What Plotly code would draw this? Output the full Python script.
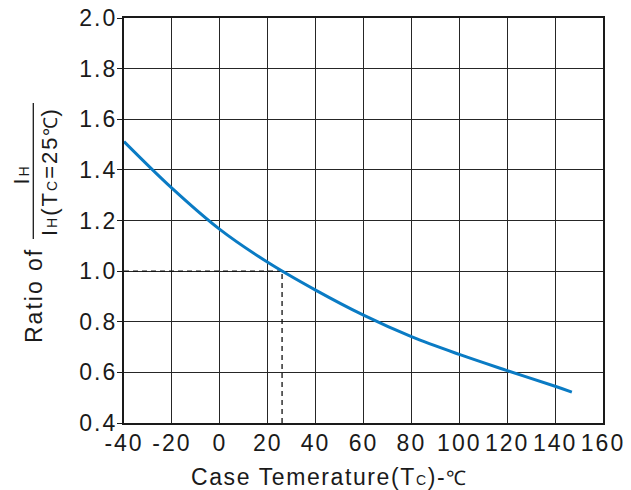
import plotly.graph_objects as go

# ---- data ----
temps = [-40, -20, 0, 20, 40, 60, 80, 100, 120, 140, 147]
ratio = [1.512, 1.328, 1.165, 1.035, 0.925, 0.826, 0.741, 0.671, 0.607, 0.545, 0.522]
ref_temp = 26
ref_ratio = 1.0
x_ticks = [-40, -20, 0, 20, 40, 60, 80, 100, 120, 140, 160]
y_ticks = [0.4, 0.6, 0.8, 1.0, 1.2, 1.4, 1.6, 1.8, 2.0]
x_range = [-40, 160]
y_range = [0.4, 2.0]

W, H = 631, 490
L, R, T, B = 124, 28, 18, 67
PW, PH = W - L - R, H - T - B

def px(xp):
    return (xp - L) / PW

def py(yp):
    return (H - B - yp) / PH

TXT = "#1a1a1a"
FONT = "Liberation Sans, Arial, sans-serif"
SP = "letter-spacing:2px"

def spaced(s):
    return f'<span style="{SP}">{s}</span>'

fig = go.Figure()

# dashed reference lines
fig.add_trace(go.Scatter(x=[x_range[0], ref_temp], y=[ref_ratio, ref_ratio], mode="lines",
                         line=dict(color="#111111", width=1.3, dash="5px,4px"),
                         hoverinfo="skip", showlegend=False))
fig.add_trace(go.Scatter(x=[ref_temp, ref_temp], y=[y_range[0], ref_ratio], mode="lines",
                         line=dict(color="#111111", width=1.3, dash="5px,4px"),
                         hoverinfo="skip", showlegend=False))
# curve
fig.add_trace(go.Scatter(x=temps, y=ratio, mode="lines",
                         line=dict(color="#0a7bc4", width=3, shape="spline", smoothing=1.0),
                         showlegend=False))

small = 'font-size:14px'
annotations = [
    dict(text=f'<span style="letter-spacing:1.6px">Case Temerature(T</span><span style="{small};letter-spacing:1.6px">C</span>'
              f'<span style="letter-spacing:1.6px">)-</span><span style="font-size:20px">℃</span>',
         x=px(328), y=py(477), xref="paper", yref="paper", showarrow=False,
         xanchor="center", yanchor="middle", font=dict(size=23, color=TXT, family=FONT)),
    dict(text=spaced("Ratio of"), textangle=-90,
         x=px(34), y=py(296), xref="paper", yref="paper", showarrow=False,
         xanchor="center", yanchor="middle", font=dict(size=23, color=TXT, family=FONT)),
    dict(text=f'<span style="{SP}">I</span><span style="{small}">H</span>', textangle=-90,
         x=px(20.5), y=py(176), xref="paper", yref="paper", showarrow=False,
         xanchor="center", yanchor="middle", font=dict(size=22, color=TXT, family=FONT)),
    dict(text=f'<span style="{SP}">I</span><span style="{small};{SP}">H</span>'
              f'<span style="{SP}">(T</span><span style="{small};{SP}">C</span>'
              f'<span style="{SP}">=25</span><span style="font-size:19px">℃</span><span style="{SP}">)</span>',
         textangle=-90,
         x=px(50), y=py(172), xref="paper", yref="paper", showarrow=False,
         xanchor="center", yanchor="middle", font=dict(size=22, color=TXT, family=FONT)),
]

shapes = [
    dict(type="line", xref="paper", yref="paper", x0=px(33.3), x1=px(33.3), y0=py(103), y1=py(239),
         line=dict(color=TXT, width=1.3)),
]

fig.update_layout(
    width=W, height=H,
    margin=dict(l=L, r=R, t=T, b=B, pad=0),
    paper_bgcolor="white", plot_bgcolor="white",
    font=dict(family=FONT, size=22, color=TXT),
    annotations=annotations, shapes=shapes,
    xaxis=dict(range=x_range, tickvals=x_ticks, ticktext=[spaced(str(v)) for v in x_ticks],
               showgrid=True, gridcolor="#262626", gridwidth=1.4, automargin=False,
               showline=True, linecolor="#1a1a1a", linewidth=2.4, mirror=True,
               ticks="", zeroline=False, ticklabelstandoff=-2,
               tickfont=dict(size=23, color=TXT, family=FONT)),
    yaxis=dict(range=y_range, tickvals=y_ticks, ticktext=[spaced(f"{v:.1f}") for v in y_ticks],
               showgrid=True, gridcolor="#262626", gridwidth=1.4, automargin=False,
               showline=True, linecolor="#1a1a1a", linewidth=2.4, mirror=True,
               ticks="outside", ticklen=5, tickwidth=1.3, tickcolor="#1a1a1a",
               zeroline=False, ticklabelstandoff=-5,
               tickfont=dict(size=23, color=TXT, family=FONT)),
)

fig.write_html("out.html", config={"displayModeBar": False},
               post_script="document.body.style.margin='0px';document.body.style.padding='0px';")
